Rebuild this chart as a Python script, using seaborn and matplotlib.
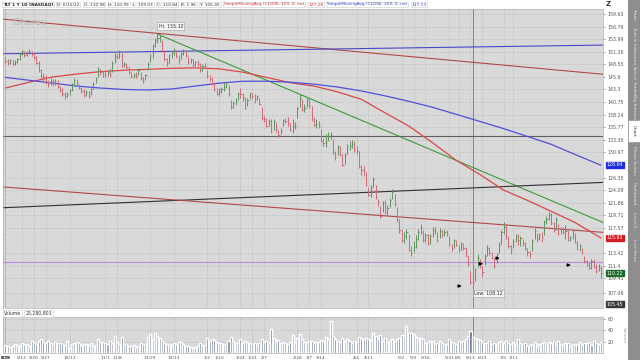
import numpy as np
import pandas as pd
import seaborn as sns
import matplotlib.pyplot as plt
from matplotlib.patches import Rectangle

# TLT daily bars, 1 year (prices in $, volume in millions)
holidays = ["2021-09-06", "2021-11-25", "2021-12-24", "2022-01-17", "2022-02-21",
            "2022-04-15", "2022-05-30", "2022-06-20", "2022-07-04"]
days = pd.bdate_range("2021-09-01", "2022-08-31").drop(pd.to_datetime(holidays))

closes = [
    # sep
    149.2, 148.8, 149.4, 148.6, 149.1, 149.6, 150.8, 151.3, 150.6, 151.0, 151.4,
    150.7, 150.1, 148.9, 147.3, 146.1, 145.8, 145.0, 144.4, 145.1, 144.6,
    # oct
    145.0, 143.9, 143.1, 142.4, 141.9, 142.3, 143.2, 144.3, 145.2, 144.6, 143.7,
    143.0, 142.2, 142.8, 142.0, 143.3, 144.4, 145.6, 147.5, 146.9, 146.5,
    # nov
    146.3, 147.0, 146.6, 148.9, 150.4, 150.1, 151.2, 148.3, 148.6, 147.9, 146.9,
    146.0, 146.4, 146.1, 147.4, 145.6, 145.1, 146.2, 148.6, 150.2, 152.5,
    # dec
    153.9, 154.3, 154.6, 151.6, 149.7, 148.9, 150.5, 150.9, 151.6, 150.4, 149.5,
    150.8, 151.3, 150.6, 149.0, 149.6, 148.3, 149.0, 148.7, 147.3, 148.2, 148.1,
    # jan
    146.0, 145.4, 144.6, 143.4, 142.6, 142.9, 143.5, 143.9, 144.4, 142.3,
    139.7, 140.6, 140.9, 142.4, 142.3, 141.6, 139.6, 141.2, 142.5, 141.9,
    # feb
    141.3, 141.9, 140.4, 137.5, 137.4, 136.0, 136.9, 134.9, 136.9, 135.4,
    134.3, 135.1, 137.1, 137.0, 136.6, 135.2, 136.1, 136.1, 139.5,
    # mar
    141.6, 139.2, 139.6, 141.3, 140.2, 137.3, 136.2, 136.4, 135.9, 133.1, 132.8, 132.9,
    134.1, 134.2, 131.0, 130.2, 131.9, 130.6, 128.7, 130.4, 132.0, 132.1, 132.6,
    # apr
    131.6, 131.2, 128.3, 127.8, 127.5, 125.0, 123.2, 124.5, 126.1, 122.9,
    122.0, 119.6, 121.8, 120.2, 120.9, 122.4, 123.8, 121.6, 119.0, 117.2,
    # may
    115.6, 116.2, 116.9, 114.0, 113.5, 114.4, 115.8, 116.9, 117.5, 115.6, 116.4,
    114.9, 116.2, 117.3, 117.0, 115.6, 117.1, 116.5, 116.9, 116.6, 114.9,
    # jun
    114.3, 115.6, 114.8, 113.9, 115.0, 114.2, 113.0, 111.6, 108.8, 108.6, 110.84,
    112.6, 111.3, 110.4, 112.9, 114.3, 113.5, 112.6, 111.4, 113.2, 114.8,
    # jul
    116.9, 117.8, 116.3, 114.6, 113.9, 115.4, 116.3, 115.6, 115.9, 115.1,
    114.2, 113.6, 113.2, 115.5, 117.0, 115.9, 116.4, 116.0, 118.6, 119.0,
    # aug
    119.7, 118.4, 117.2, 119.1, 116.8, 117.4, 116.9, 117.1, 115.6, 115.9, 117.0, 115.3,
    114.1, 114.6, 113.5, 112.2, 111.5, 111.0, 112.1, 111.2, 110.6, 111.1, 110.2,
]
highs = [
    150.1, 149.6, 149.7, 149.5, 149.4, 150.0, 151.0, 151.7, 151.5, 151.4, 151.8,
    151.5, 151.0, 150.4, 149.2, 147.6, 146.7, 146.2, 145.3, 145.6, 145.5,
    145.5, 145.2, 144.0, 143.6, 142.8, 142.8, 143.5, 144.6, 145.7, 145.4, 144.5,
    143.9, 143.3, 143.2, 142.9, 143.6, 144.8, 145.9, 147.9, 147.6, 147.2,
    147.1, 147.4, 147.8, 149.2, 150.9, 150.8, 151.6, 151.0, 149.0, 148.8, 147.9,
    146.9, 146.8, 146.9, 147.7, 147.0, 145.9, 146.6, 149.1, 150.7, 153.0,
    154.2, 155.12, 155.0, 153.9, 151.5, 150.0, 150.8, 151.3, 152.1, 151.7, 150.6,
    151.2, 151.8, 151.5, 150.4, 150.0, 149.7, 149.3, 149.5, 148.9, 148.6, 148.9,
    147.4, 146.3, 145.9, 144.8, 143.6, 143.6, 143.9, 144.6, 144.9, 144.2,
    141.2, 141.0, 141.5, 142.8, 143.6, 142.5, 141.8, 141.5, 142.8, 142.6,
    142.3, 142.2, 141.6, 139.8, 138.0, 137.5, 137.3, 137.4, 137.3, 136.7,
    135.2, 135.6, 137.4, 137.5, 137.7, 136.5, 137.4, 136.8, 139.8,
    142.4, 141.3, 140.4, 141.6, 141.6, 139.9, 137.8, 137.3, 137.0, 135.5, 133.7, 134.4,
    134.8, 134.8, 133.5, 131.3, 132.4, 132.2, 130.6, 130.8, 132.5, 133.1, 133.3,
    133.1, 132.2, 131.3, 128.7, 128.4, 127.3, 124.7, 125.0, 126.4, 125.1,
    122.6, 121.4, 122.2, 122.4, 121.5, 122.8, 124.3, 123.4, 121.2, 119.1,
    117.3, 116.9, 117.4, 116.6, 114.6, 115.4, 116.4, 117.4, 118.3, 117.2, 116.8,
    116.5, 116.5, 117.7, 117.8, 116.9, 117.5, 117.3, 117.4, 117.3, 116.3,
    114.9, 115.8, 115.6, 114.8, 115.3, 115.1, 114.4, 113.0, 110.6, 109.5, 110.99,
    113.3, 112.5, 111.3, 113.3, 114.7, 114.4, 113.6, 112.6, 113.5, 115.2,
    117.3, 118.6, 118.0, 116.2, 114.8, 115.7, 116.6, 116.5, 116.3, 115.8,
    115.3, 114.3, 113.8, 115.8, 117.5, 116.8, 116.7, 116.9, 118.9, 119.6,
    120.3, 120.1, 118.5, 119.4, 118.2, 117.8, 117.7, 118.0, 117.3, 116.3, 117.3, 116.7,
    115.4, 114.9, 114.3, 113.0, 112.3, 112.0, 112.5, 112.4, 111.6, 111.6, 111.3,
]
lows = [
    148.9, 148.4, 148.6, 148.3, 148.4, 148.9, 149.5, 150.6, 150.2, 150.3, 150.7,
    150.3, 149.6, 148.6, 146.9, 145.7, 145.1, 144.5, 143.9, 144.3, 144.1,
    144.3, 143.6, 142.7, 141.9, 141.4, 141.7, 142.1, 143.0, 144.2, 144.1, 143.3,
    142.6, 141.8, 142.0, 141.5, 142.1, 143.4, 144.6, 145.8, 146.3, 145.9,
    145.8, 146.1, 145.9, 147.0, 148.8, 149.6, 150.0, 148.0, 147.9, 147.3, 146.5,
    145.6, 145.7, 145.7, 146.3, 145.2, 144.6, 145.3, 147.4, 149.1, 150.0,
    152.2, 153.1, 153.3, 151.2, 149.2, 148.2, 148.8, 150.0, 150.6, 150.0, 148.7,
    149.6, 150.5, 150.1, 148.7, 148.9, 148.0, 148.2, 148.2, 147.0, 147.2, 147.6,
    145.7, 145.0, 144.2, 142.9, 142.2, 141.9, 142.5, 142.9, 143.6, 142.0,
    139.4, 139.5, 140.1, 141.2, 141.6, 140.9, 139.3, 139.9, 141.3, 141.3,
    140.6, 141.1, 140.1, 137.1, 136.8, 135.8, 136.1, 134.6, 135.2, 134.9,
    133.9, 134.5, 136.0, 136.6, 136.0, 135.0, 134.7, 135.4, 137.5,
    139.8, 138.9, 138.8, 139.8, 139.6, 137.0, 136.0, 135.6, 135.6, 132.9, 132.1, 131.9,
    133.2, 133.5, 130.7, 129.6, 130.5, 130.3, 128.5, 128.9, 130.7, 131.5, 131.8,
    131.0, 130.6, 128.0, 126.9, 126.7, 124.8, 123.0, 122.9, 124.6, 122.6,
    121.3, 119.3, 120.3, 119.9, 119.7, 121.2, 122.6, 121.3, 118.6, 116.8,
    115.3, 115.0, 115.7, 113.8, 113.0, 113.6, 114.3, 115.6, 116.6, 115.3, 115.3,
    114.7, 114.9, 116.1, 116.5, 115.3, 115.9, 116.1, 116.2, 116.3, 114.6,
    113.7, 114.2, 114.5, 113.6, 114.0, 114.0, 112.8, 111.3, 108.5, 108.12, 109.03,
    111.2, 111.0, 109.6, 111.5, 113.0, 113.1, 112.4, 111.0, 111.9, 113.5,
    114.9, 116.6, 115.8, 114.3, 113.3, 114.2, 115.3, 114.8, 114.6, 114.6,
    113.9, 113.0, 112.7, 113.7, 115.7, 115.3, 115.5, 115.3, 116.4, 118.2,
    118.9, 118.0, 116.9, 117.3, 116.4, 116.6, 116.5, 115.8, 115.4, 115.4, 115.8, 115.0,
    113.9, 113.7, 113.3, 111.9, 111.3, 110.8, 110.8, 111.0, 110.2, 110.5, 109.4,
]
volume = [
    14, 12, 10, 13, 15, 14, 13, 18, 16, 15, 12, 21, 20, 16, 22, 24, 20, 18, 22, 17, 16,
    20, 17, 18, 16, 14, 22, 9, 15, 18, 20, 17, 14, 16, 15, 14, 18, 13, 14, 24, 19, 20,
    17, 15, 22, 18, 30, 19, 16, 28, 16, 15, 13, 12, 14, 11, 13, 17, 16, 15, 28, 33, 25,
    36, 30, 27, 22, 17, 16, 15, 14, 17, 16, 19, 20, 16, 13, 12, 10, 9, 11, 12, 17, 14, 14,
    26, 22, 25, 23, 20, 18, 17, 16, 15, 21, 29, 22, 18, 20, 24, 17, 22, 19, 18, 16,
    18, 14, 17, 25, 19, 21, 18, 42, 26, 22, 23, 18, 20, 17, 16, 19, 32, 20, 26,
    34, 24, 20, 19, 21, 22, 18, 20, 19, 23, 21, 28, 25, 56, 30, 24, 22, 19, 26, 22, 25, 21, 18,
    22, 20, 28, 27, 24, 26, 25, 23, 36, 30, 24, 31, 22, 26, 20, 22, 25, 21, 24, 27,
    32, 30, 48, 35, 36, 34, 28, 27, 26, 25, 18, 20, 22, 22, 16, 18, 22, 17, 16, 15, 24,
    20, 17, 16, 21, 19, 22, 25, 30, 38, 29, 27, 25, 23, 20, 18, 17, 22, 16, 18, 15, 19,
    22, 18, 21, 17, 15, 19, 16, 24, 18, 15, 17, 13, 14, 16, 19, 13, 15, 18, 20, 16,
    19, 17, 20, 16, 21, 15, 14, 18, 17, 13, 15, 14, 16, 19, 15, 17, 18, 20, 14, 21, 17, 15, 19,
]

# moving averages read every 10 bars
sma_bars = [0, 10, 20, 30, 40, 50, 60, 70, 80, 90, 100, 110, 120, 130, 140, 150,
            160, 170, 180, 190, 200, 210, 220, 230, 240, 251]
sma100 = [143.6, 144.8, 145.9, 146.5, 147.0, 147.3, 147.5, 147.7, 147.8, 147.6, 146.9,
          145.8, 144.7, 144.0, 142.8, 141.3, 138.6, 136.0, 132.8, 129.5, 126.9, 124.1,
          122.3, 120.4, 118.5, 115.9]
sma200 = [145.8, 145.2, 144.6, 144.0, 143.6, 143.3, 143.2, 143.4, 144.0, 144.6, 145.0,
          145.0, 144.8, 144.4, 143.8, 143.0, 142.0, 140.9, 139.7, 138.3, 136.9, 135.5,
          134.0, 132.5, 130.6, 128.6]

# hand drawn lines: colour, start bar, start price, end bar, end price
trend_lines = [
    ("#b04848", -2, 158.5, 253, 146.4),
    ("#4848c8", -2, 150.8, 253, 152.7),
    ("#3c9a3c", 64, 155.12, 253, 118.3),
    ("#303030", -2, 121.0, 253, 125.5),
    ("#b04848", -2, 124.7, 253, 116.8),
    ("#606060", -2, 134.1, 253, 134.1),
    ("#b48ce0", -2, 111.96, 253, 111.96),
]
arrow_bars = [191, 200, 207, 237]
arrow_prices = [108.2, 111.7, 112.6, 111.5]

price_ticks = [159.63, 156.79, 153.99, 151.26, 148.55, 145.9, 143.3, 140.75, 138.24,
               135.77, 133.35, 130.97, 126.35, 124.09, 121.86, 119.71, 117.57, 113.42,
               111.4, 109.41, 107.06]
date_ticks = ["9/13", "9/20", "9/27", "10/11", "11/1", "11/8", "11/29", "12/13", "1/3",
              "1/10", "1/24", "1/31", "2/7", "2/28", "3/7", "3/14", "4/4", "4/11", "5/2",
              "5/9", "5/16", "5/31", "6/6", "6/13", "6/21", "7/5", "7/11", "8/1", "8/8",
              "8/15", "8/29"]

df = pd.DataFrame({"bar": np.arange(len(days)), "close": closes, "high": highs,
                   "low": lows, "vol": volume})
df["dir"] = np.where(df["close"] >= df["close"].shift(1).fillna(149.6), "up", "down")

sns.set_theme(style="white")
plt.rcParams["font.family"] = ["DejaVu Sans"]

W, H = 640, 360
fig = plt.figure(figsize=(6.4, 3.6), dpi=100)
fig.patch.set_facecolor("white")

ax = fig.add_axes([3 / W, 1 - 308 / H, 600 / W, 299 / H])
axv = fig.add_axes([3 / W, 1 - 353 / H, 600 / W, 36 / H])
bg = "#d9d9d9"
xlim = (-1.05, 251.85)

# price bars
ax.set_facecolor(bg)
ax.set_yscale("log")
bar_col = df["dir"].map({"up": "#5f935f", "down": "#d06a78"})
ax.vlines(df["bar"], df["low"], df["high"], colors=bar_col, lw=0.7, zorder=3)
ax.hlines(df["close"], df["bar"], df["bar"] + 0.5, colors=bar_col, lw=0.7, zorder=3)

for col, x0, p0, x1, p1 in trend_lines:
    sns.lineplot(x=[x0, x1], y=[p0, p1], color=col, lw=0.8, ax=ax, zorder=2)
sns.lineplot(x=sma_bars, y=sma100, color="#d84848", lw=0.9, ax=ax, zorder=2)
sns.lineplot(x=sma_bars, y=sma200, color="#5050d8", lw=0.9, ax=ax, zorder=2)

for b, p in zip(arrow_bars, arrow_prices):
    ax.annotate("", xy=(b + 2.5, p), xytext=(b - 1.5, p),
                arrowprops=dict(arrowstyle="-|>", color="black", lw=0.9,
                                mutation_scale=4), zorder=5)

box = dict(boxstyle="square,pad=0.25", fc="#f4f4f4", ec="#a0a0a0", lw=0.4)
ax.annotate("Hi: 155.12", xy=(64, 155.12), xytext=(64.5, 156.9), fontsize=3.4,
            color="#333333", bbox=box, va="center")
ax.annotate("Low: 108.12", xy=(197, 108.12), xytext=(197.5, 107.1), fontsize=3.4,
            color="#333333", bbox=box, va="center")
ax.text(3, 157.6, "iShares", fontsize=6.5, color="#b4b4b4", va="center")

ax.set_xlim(*xlim)
ax.set_ylim(104.86, 160.77)
ax.yaxis.tick_right()
ax.set_yticks(price_ticks)
ax.set_yticklabels([f"{t:g}" for t in price_ticks])
ax.yaxis.set_minor_locator(plt.NullLocator())
ax.tick_params(axis="y", labelsize=3.4, colors="#555555", length=1.5, width=0.4, pad=2)

tick_pos = []
for lab in date_ticks:
    m, d = map(int, lab.split("/"))
    yr = 2021 if m >= 8 else 2022
    tick_pos.append(int(days.searchsorted(pd.Timestamp(yr, m, d))))
ax.set_xticks(tick_pos)
ax.tick_params(axis="x", labelbottom=False, length=0)
ax.grid(True, color="#9c9c9c", lw=0.4, ls=(0, (1, 2)))
for s in ax.spines.values():
    s.set_color("#b0b0b0")
    s.set_linewidth(0.5)

cursor = 197
ax.axvline(cursor, color="#777777", lw=0.6, zorder=1)

# value flags on the price scale
flags = [(128.64, "128.64", "#1f2ee0"), (115.93, "115.93", "#d81c24"),
         (110.22, "110.22", "#1d6b2a"), (105.45, "105.45", "#3a3a3a")]
for v, t, c in flags:
    ax.annotate(t, xy=(1.006, v), xycoords=("axes fraction", "data"), fontsize=3.4,
                color="white", va="center", ha="left",
                bbox=dict(boxstyle="square,pad=0.15", fc=c, ec=c))

# volume
axv.set_facecolor(bg)
sns.barplot(data=df, x="bar", y="vol", hue="dir", native_scale=True, dodge=False,
            palette={"up": "#8ea0bb", "down": "#4f6890"}, width=0.85, legend=False,
            ax=axv, zorder=3)
axv.set_xlim(*xlim)
axv.set_ylim(0, 63.5)
axv.yaxis.tick_right()
axv.set_yticks([20, 40, 60])
axv.tick_params(axis="y", labelsize=3.4, colors="#555555", length=1.5, width=0.4, pad=2)
axv.set_xticks(tick_pos)
axv.set_xticklabels(date_ticks)
axv.tick_params(axis="x", labelsize=3.2, colors="#555555", length=1.5, width=0.4, pad=1)
axv.set_xlabel("")
axv.set_ylabel("")
axv.grid(True, color="#9c9c9c", lw=0.4, ls=(0, (1, 2)))
axv.axvline(cursor, color="#777777", lw=0.6, zorder=1)
for s in axv.spines.values():
    s.set_color("#b0b0b0")
    s.set_linewidth(0.5)

# header row, laid out left to right
hdr = [("TLT 1 Y 1D [NASDAQ]", "#222222", "bold"), ("D: 6/15/22", "#333333", "normal"),
       ("O: 110.98", "#333333", "normal"), ("H: 110.99", "#333333", "normal"),
       ("L: 109.03", "#333333", "normal"), ("C: 110.84", "#333333", "normal"),
       ("R: 1.96", "#333333", "normal"), ("Y: 105.45", "#333333", "normal"),
       ("SimpleMovingAvg (CLOSE, 100, 0, no)", "#d03030", "normal"),
       ("127.28", "#d03030", "normal"),
       ("SimpleMovingAvg (CLOSE, 200, 0, no)", "#3040d0", "normal"),
       ("137.13", "#3040d0", "normal")]
renderer = fig.canvas.get_renderer()
x = 3
for t, c, w in hdr:
    txt = fig.text(x / W, 1 - 4.5 / H, t, fontsize=3.1, color=c, weight=w, va="center",
                   bbox=dict(boxstyle="square,pad=0.2", fc="white", ec="#c8c8c8", lw=0.4))
    x += txt.get_window_extent(renderer).width + 4
fig.text(606 / W, 1 - 4.5 / H, "Z", fontsize=5, weight="bold", color="#333333", va="center")

# volume header
x = 4
for t in ["Volume", "25,280,801"]:
    txt = fig.text(x / W, 1 - 313.5 / H, t, fontsize=3.3, color="#333333", va="center",
                   bbox=dict(boxstyle="square,pad=0.2", fc="white", ec="#c8c8c8", lw=0.4))
    x += txt.get_window_extent(renderer).width + 4
fig.text(624 / W, 1 - 335 / H, "Volume", fontsize=3.2, color="#a0a0a0", rotation=270,
         ha="center", va="center")

# side tab strip
fig.patches.append(Rectangle((628 / W, 0), 12 / W, 1, transform=fig.transFigure,
                             fc="#8e8e8e", ec="none"))
fig.patches.append(Rectangle((628 / W, 1 - 142 / H), 12 / W, 22 / H, transform=fig.transFigure,
                             fc="white", ec="#8e8e8e", lw=0.4))
tabs = [("Trade", 14), ("Tools & Indicators", 45), ("Active Trader", 80), ("Big Buttons", 107),
        ("Chart", 131), ("Phase Scores", 160), ("Dashboard", 194), ("Level II", 220),
        ("Live News", 250)]
for t, y in tabs:
    fig.text(634 / W, 1 - y / H, t, fontsize=3.2, rotation=270, ha="center", va="center",
             color="#333333" if t == "Chart" else "#e8e8e8")

fig.savefig("out.png", dpi=100, facecolor="white")
